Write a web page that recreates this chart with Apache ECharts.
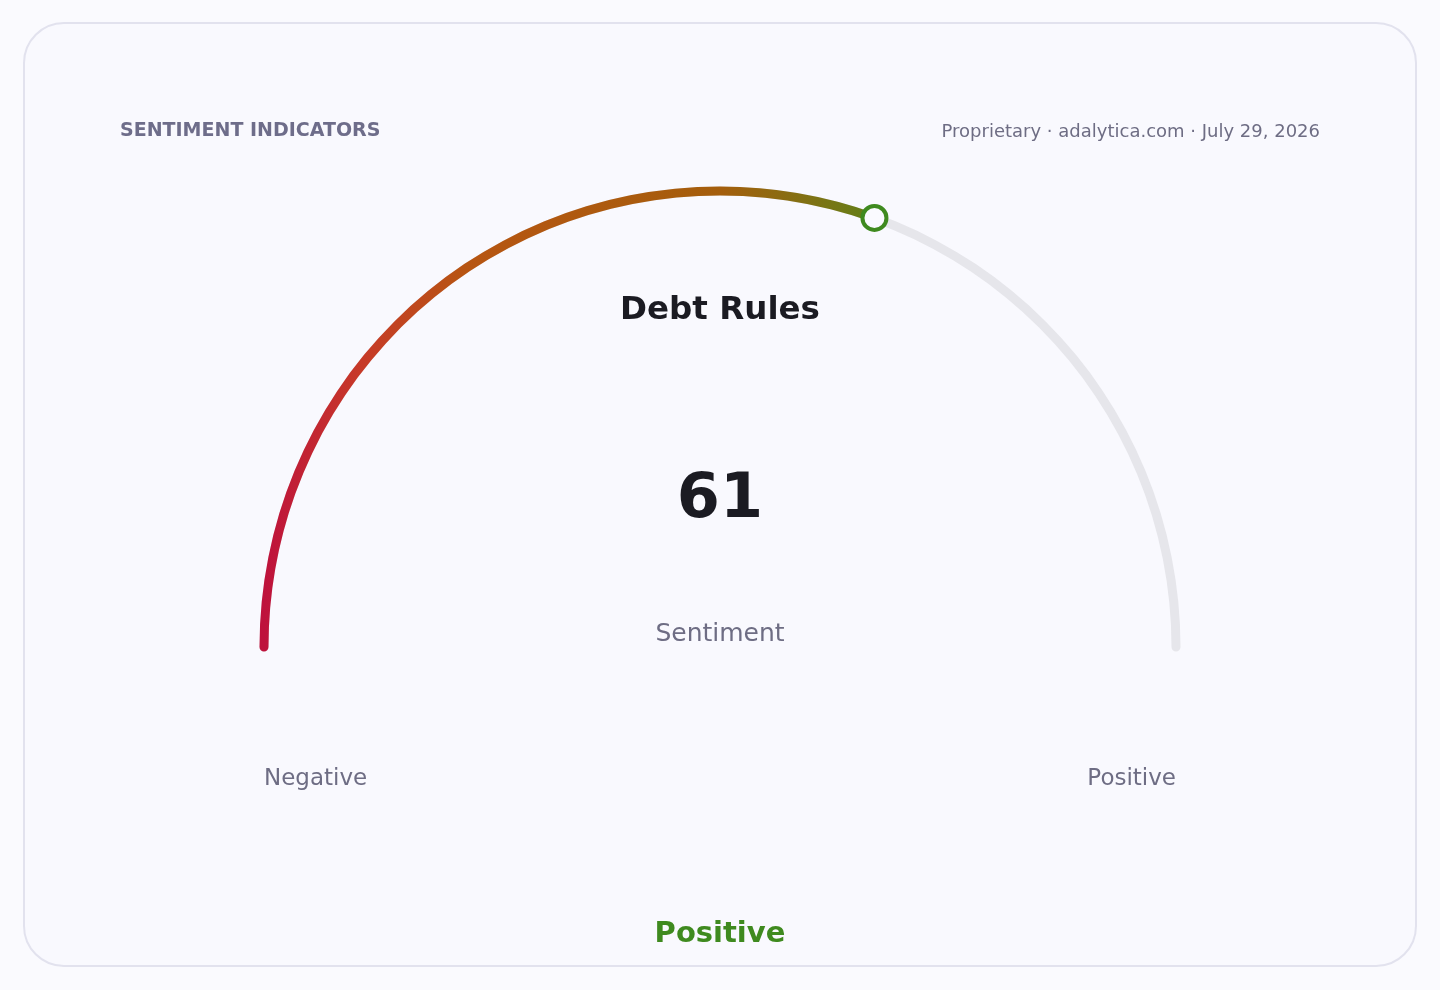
<!DOCTYPE html>
<html>
<head>
<meta charset="utf-8">
<script src="https://cdn.jsdelivr.net/npm/echarts@6/dist/echarts.min.js"></script>
<style>
  html, body { margin: 0; padding: 0; background: #fafafe; }
  #chart { width: 1440px; height: 990px; }
</style>
</head>
<body>
<div id="chart"></div>
<script>
// data
var indicatorName = 'Debt Rules';
var sentimentValue = 61;
var scaleMin = 0;
var scaleMax = 100;
var endLabels = ['Negative', 'Positive'];
var verdict = 'Positive';
var headerLeft = 'SENTIMENT INDICATORS';
var headerRight = 'Proprietary \u00b7 adalytica.com \u00b7 July 29, 2026';

var FONT = '"DejaVu Sans", sans-serif';
var CX = 720, CY = 647, R = 456, LW = 9;

var chart = echarts.init(document.getElementById('chart'));

var option = {
    backgroundColor: '#fafafe',
    graphic: [ {
        type: 'rect',
        z: -10,
        shape: { x: 24, y: 23, width: 1392, height: 943, r: 40 },
        style: { fill: '#f9f9fe', stroke: '#e2e2ee', lineWidth: 2 }
    } ],
    title: [ {
        text: headerLeft,
        left: 120, top: 122, padding: 0,
        textStyle: { fontFamily: FONT, fontSize: 19, fontWeight: 'bold', color: '#6e6d8a' }
    }, {
        text: headerRight,
        right: 120, top: 123, padding: 0,
        textStyle: { fontFamily: FONT, fontSize: 18, fontWeight: 'normal', color: '#6e6d84' }
    }, {
        text: 'Sentiment',
        left: 'center', top: 622, padding: 0,
        textStyle: { fontFamily: FONT, fontSize: 25, fontWeight: 'normal', color: '#6e6d84' }
    }, {
        text: endLabels[0],
        left: CX - R, top: 768, padding: 0,
        textStyle: { fontFamily: FONT, fontSize: 23, fontWeight: 'normal', color: '#6e6d84' }
    }, {
        text: endLabels[1],
        right: 1440 - CX - R, top: 768, padding: 0,
        textStyle: { fontFamily: FONT, fontSize: 23, fontWeight: 'normal', color: '#6e6d84' }
    }, {
        text: verdict,
        left: 'center', top: 920, padding: 0,
        textStyle: { fontFamily: FONT, fontSize: 29, fontWeight: 'bold', color: '#3f8a1f' }
    } ],
    polar: {
        center: [CX, CY],
        radius: R
    },
    angleAxis: {
        type: 'value',
        startAngle: 180,
        clockwise: true,
        min: scaleMin,
        max: scaleMin + (scaleMax - scaleMin) * 2,
        show: false
    },
    radiusAxis: {
        type: 'value',
        min: 0, max: 1,
        show: false
    },
    series: [ {
        type: 'gauge',
        center: [CX, CY],
        radius: R + LW / 2,
        startAngle: 180,
        endAngle: 0,
        min: scaleMin,
        max: scaleMax,
        axisLine: {
            roundCap: true,
            lineStyle: { width: LW, color: [[1, '#e6e6eb']] }
        },
        progress: {
            show: true,
            roundCap: true,
            width: LW,
            itemStyle: {
                color: {
                    type: 'linear', global: true,
                    x: CX - R, y: 0, x2: 874, y2: 0,
                    colorStops: [
                        { offset: 0, color: '#be123c' },
                        { offset: 0.16, color: '#c73a28' },
                        { offset: 0.33, color: '#b75512' },
                        { offset: 0.75, color: '#a45e0c' },
                        { offset: 0.94, color: '#747816' },
                        { offset: 1, color: '#5f7f17' }
                    ]
                }
            }
        },
        pointer: { show: false },
        axisTick: { show: false },
        splitLine: { show: false },
        axisLabel: { show: false },
        anchor: { show: false },
        title: {
            offsetCenter: [0, -336],
            fontFamily: FONT, fontSize: 32.5, fontWeight: 'bold', color: '#1b1b22'
        },
        detail: {
            offsetCenter: [0, -146],
            valueAnimation: false,
            fontFamily: FONT, fontSize: 62, fontWeight: 'bold', color: '#1b1b22',
            formatter: '{value}'
        },
        data: [ { value: sentimentValue, name: indicatorName } ]
    }, {
        type: 'scatter',
        coordinateSystem: 'polar',
        symbol: 'circle',
        symbolSize: 24,
        itemStyle: { color: '#fafaff', borderColor: '#3f8a1f', borderWidth: 4, opacity: 1 },
        z: 5,
        data: [ [1, sentimentValue] ]
    } ]
};

chart.setOption(option);
</script>
</body>
</html>
